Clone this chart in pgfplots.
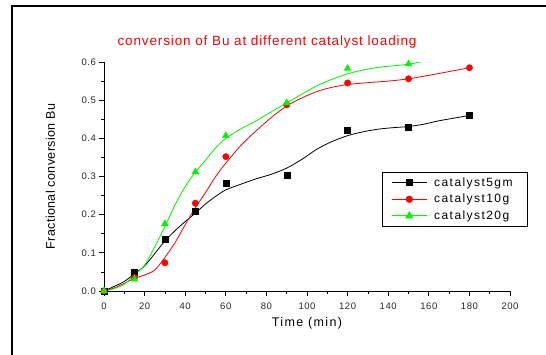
\documentclass[border=0pt]{standalone}
\usepackage{fontspec}
\setmainfont{Liberation Sans}
\usepackage{pgfplots}
\pgfplotsset{compat=1.18}
\definecolor{myred}{RGB}{255,0,0}
\definecolor{mygreen}{RGB}{0,245,0}
\newfontfamily\tickfont[LetterSpace=6]{Liberation Sans}
\newfontfamily\titlefont[LetterSpace=6.5]{Liberation Sans}
\newfontfamily\xlabfont[LetterSpace=11]{Liberation Sans}
\newfontfamily\ylabfont[LetterSpace=3]{Liberation Sans}
\newfontfamily\legfont[LetterSpace=12]{Liberation Sans}

\pgfplotstableread{
x y
0 0
15 0.048
30 0.136
45 0.208
60 0.282
90 0.303
120 0.422
150 0.429
180 0.460
}\blackpts
\pgfplotstableread{
x y
0 0
15 0.035
30 0.074
45 0.230
60 0.352
90 0.488
120 0.545
150 0.556
180 0.585
}\redpts
\pgfplotstableread{
x y
0 0
15 0.031
30 0.176
45 0.312
60 0.407
90 0.493
120 0.583
150 0.595
}\greenpts

\pgfplotstableread{
x y
0 0
5 0.012
10 0.025
15 0.045
20 0.066
25 0.098
30 0.131
35 0.158
40 0.182
45 0.204
50 0.228
55 0.248
60 0.265
67.5 0.280
75 0.294
82.5 0.306
90 0.322
97.5 0.345
105 0.372
112.5 0.392
120 0.407
127.5 0.417
135 0.424
142.5 0.428
150 0.431
157.5 0.437
165 0.446
172.5 0.453
180 0.460
}\blackcurve
\pgfplotstableread{
x y
0 0
5 0.008
10 0.020
15 0.033
20 0.042
25 0.055
30 0.088
35 0.127
40 0.174
45 0.218
50 0.258
55 0.300
60 0.335
67.5 0.382
75 0.420
82.5 0.455
90 0.485
97.5 0.506
105 0.523
112.5 0.534
120 0.541
130 0.546
140 0.550
150 0.556
165 0.570
180 0.585
}\redcurve
\pgfplotstableread{
x y
0 0
5 0.006
10 0.018
15 0.042
20 0.068
25 0.116
30 0.169
35 0.226
40 0.274
45 0.311
50 0.343
55 0.375
60 0.400
67.5 0.425
75 0.446
82.5 0.470
90 0.493
97.5 0.516
105 0.538
112.5 0.555
120 0.569
127.5 0.579
135 0.586
142.5 0.590
150 0.594
156.5 0.601
}\greencurve

\begin{document}
\begin{tikzpicture}
\useasboundingbox (-104pt,-63pt) rectangle (442pt,291pt);
\draw[line width=1.5pt] (-92pt,-70pt) -- (-92pt,285pt) -- (450pt,285pt);
\begin{axis}[
  at={(0pt,0pt)}, anchor=south west,
  scale only axis, width=406pt, height=229pt,
  xmin=0, xmax=200, ymin=0, ymax=0.6,
  axis x line*=bottom, axis y line*=left,
  axis line style={line width=0.8pt, -},
  xtick={0,20,40,60,80,100,120,140,160,180,200},
  ytick={0,0.1,0.2,0.3,0.4,0.5,0.6},
  minor x tick num=1, minor y tick num=1,
  tick align=outside,
  major tick length=4.5pt, minor tick length=3pt,
  every tick/.style={black, line width=0.8pt},
  /pgf/number format/assume math mode=true,
  yticklabel style={/pgf/number format/.cd, fixed, fixed zerofill, precision=1},
  xticklabel style={yshift=-3.5pt},
  tick label style={font=\tickfont\fontsize{9.5}{11}\selectfont, text=black!85},
  xlabel={Time (min)},
  xlabel style={at={(axis description cs:0.5,-0.1397)}, anchor=center, font=\xlabfont\fontsize{12.5}{14}\selectfont},
  ylabel={Fractional conversion Bu},
  ylabel style={at={(axis description cs:-0.1318,0.5)}, anchor=center, rotate=0, font=\ylabfont\fontsize{12.5}{14}\selectfont},
  title={conversion of Bu at different catalyst loading},
  title style={at={(axis description cs:0.4015,1.061)}, anchor=center, yshift=0pt, font=\titlefont\fontsize{13.5}{15}\selectfont, text=myred},
  legend cell align=left,
  legend image code/.code={\draw[mark repeat=2,mark phase=2] plot coordinates {(0pt,0pt) (17.5pt,0pt) (35pt,0pt)};},
  legend style={at={(axis description cs:0.6847,0.5197)}, anchor=north west, draw=black, line width=0.8pt,
    font=\legfont\fontsize{12}{13}\selectfont, inner xsep=9pt, inner ysep=3.2pt, row sep=2.4pt,
    /tikz/column sep=5pt, nodes={inner sep=2pt}},
]
\addplot[black, line width=0.8pt, smooth, tension=0.5, forget plot] table {\blackcurve};
\addplot[myred, line width=0.8pt, smooth, tension=0.5, forget plot] table {\redcurve};
\addplot[mygreen, line width=0.8pt, smooth, tension=0.5, forget plot] table {\greencurve};
\addplot[only marks, mark=square*, mark size=3pt, black, forget plot] table {\blackpts};
\addplot[only marks, mark=*, mark size=3.2pt, myred, forget plot] table {\redpts};
\addplot[only marks, mark=triangle*, mark size=4pt, mygreen, forget plot] table {\greenpts};
\addlegendimage{black, line width=0.8pt, mark=square*, mark size=3pt}
\addlegendentry{\makebox[82pt][l]{catalyst5gm}}
\addlegendimage{myred, line width=0.8pt, mark=*, mark size=3.2pt}
\addlegendentry{\makebox[82pt][l]{catalyst10g}}
\addlegendimage{mygreen, line width=0.8pt, mark=triangle*, mark size=4pt}
\addlegendentry{\makebox[82pt][l]{catalyst20g}}
\end{axis}
\end{tikzpicture}
\end{document}
